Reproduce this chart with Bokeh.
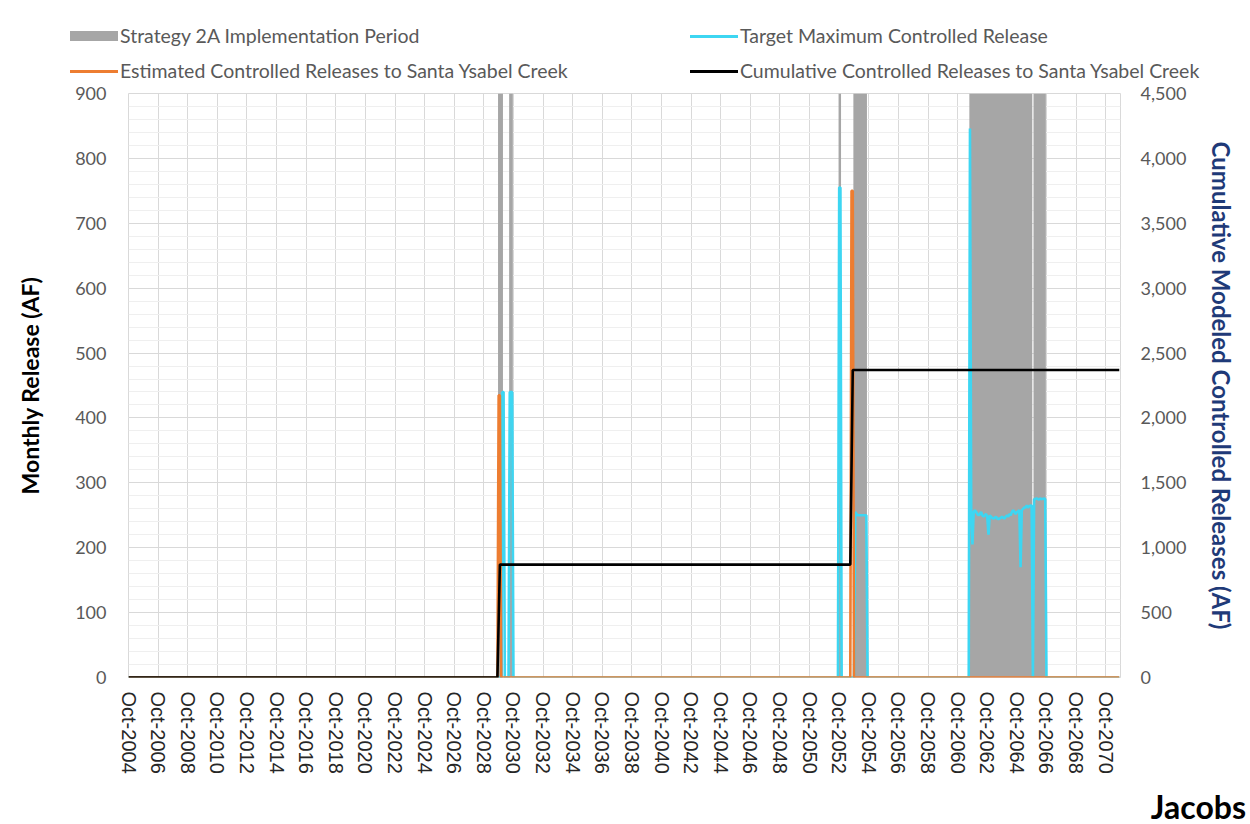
import pandas as pd
import numpy as np
from bokeh.plotting import figure
from bokeh.layouts import column
from bokeh.models import (Range1d, LinearAxis, FixedTicker, NumeralTickFormatter, Div)
from bokeh.embed import file_html
from bokeh.resources import INLINE

# ---------------- data ----------------
first_month = "2004-10"
last_month = "2071-09"

tick_labels = ["Oct-%d" % y for y in range(2004, 2071, 2)]

# Strategy 2A implementation period (grey columns at full height)
implementation_starts = ["2029-10", "2030-07", "2052-10", "2053-10", "2061-08", "2065-12"]
implementation_ends = ["2030-01", "2030-09", "2052-11", "2054-08", "2065-10", "2066-09"]
implementation_height = 900

# Estimated controlled releases to Santa Ysabel Creek (AF / month), non-zero months
estimated_months = ["2029-10", "2029-11", "2053-08", "2053-09"]
estimated_values = [435, 435, 750, 750]

# Target maximum controlled release (AF / month), non-zero runs
target_starts = ["2030-01", "2030-07", "2052-10", "2053-11", "2061-08"]
target_values = [
    [440, 440],
    [440, 440, 440],
    [755, 755],
    [255, 252, 250, 250, 250, 250, 250, 250, 250, 250],
    [846, 255, 205, 255, 258, 255, 252, 250, 252, 255, 250, 248,
     250, 252, 248, 220, 250, 248, 246, 245, 246, 248, 245, 244,
     245, 246, 248, 246, 245, 248, 250, 248, 252, 250, 255, 258,
     255, 252, 255, 256, 258, 170, 258, 260, 262, 262, 265, 262,
     264, 265, 265, 0, 275, 275, 276, 275, 274, 276, 275, 275,
     276, 275],
]

legend_labels = ["Strategy 2A Implementation Period",
                 "Target Maximum Controlled Release",
                 "Estimated Controlled Releases to Santa Ysabel Creek",
                 "Cumulative Controlled Releases to Santa Ysabel Creek"]

# ---------------- helpers ----------------
base = pd.Period(first_month, "M")
def midx(s):
    return (pd.Period(s, "M") - base).n

n_months = midx(last_month) + 1
x = np.arange(n_months)

estimated = np.zeros(n_months)
for m, v in zip(estimated_months, estimated_values):
    estimated[midx(m)] = v

target = np.zeros(n_months)
for s, vals in zip(target_starts, target_values):
    i0 = midx(s)
    target[i0:i0 + len(vals)] = vals

cumulative = np.cumsum(estimated)

tick_pos = [midx(lbl.replace("Oct-", "") + "-10") for lbl in tick_labels]

GRAY = "#A6A6A6"
ORANGE = "#ED7D31"
CYAN = "#3DD6F2"
LAB_FONT = "Lato"
W = 1250
LEG_H = 80

# ---------------- legend strip (HTML) ----------------
legend_keys = [  # (left, row centre y, key height, colour)
    (70, 36, 10, GRAY), (690, 36, 3, CYAN), (70, 71, 3, ORANGE), (690, 71, 3, "black")]
parts = []
for (lx, cy, kh, col), lab in zip(legend_keys, legend_labels):
    parts.append(f'<div style="position:absolute;left:{lx}px;top:{cy - kh / 2}px;width:48px;'
                 f'height:{kh}px;background:{col};"></div>')
    parts.append(f'<div style="position:absolute;left:{lx + 50}px;top:{cy - 9}px;height:18px;'
                 f'line-height:18px;white-space:nowrap;">{lab}</div>')
legend_div = Div(text=(f'<div style="position:relative;width:{W}px;height:{LEG_H}px;font-family:Lato;'
                       f'font-size:19.5px;color:#595959;">' + "".join(parts) + '</div>'),
                 width=W, height=LEG_H, margin=0)

# ---------------- main chart ----------------
p = figure(width=W, height=790 - LEG_H, output_backend="svg", toolbar_location=None,
           x_range=Range1d(0, n_months), y_range=Range1d(0, 900),
           min_border_left=128, min_border_right=130, min_border_top=93 - LEG_H, min_border_bottom=113,
           background_fill_color="white", border_fill_color="white")
p.outline_line_color = "#D9D9D9"
p.extra_y_ranges = {"cum": Range1d(0, 4500)}

p.quad(left=[midx(s) - 0.5 for s in implementation_starts],
       right=[midx(e) + 0.5 for e in implementation_ends],
       bottom=0, top=implementation_height,
       fill_color=GRAY, line_color=None)
p.line(x, target, line_color=CYAN, line_width=2.6)
p.line(x, estimated, line_color=ORANGE, line_width=2.6)
p.line(x, cumulative, line_color="black", line_width=2.6, y_range_name="cum")

p.xaxis.ticker = FixedTicker(ticks=tick_pos)
p.xaxis.major_label_overrides = {t: l for t, l in zip(tick_pos, tick_labels)}
p.xaxis.major_label_orientation = "vertical"
p.xaxis.major_label_text_font = "Liberation Sans"
p.xaxis.major_label_text_font_size = "20px"
p.xaxis.major_label_text_color = "#262626"
p.xaxis.major_label_standoff = 8
p.xaxis.axis_line_color = None
p.xaxis.major_tick_line_color = None
p.xaxis.minor_tick_line_color = None

p.yaxis.ticker = FixedTicker(ticks=list(range(0, 901, 100)), minor_ticks=list(range(0, 901, 20)))
p.yaxis.axis_label = "Monthly Release (AF)"
p.yaxis.axis_label_text_font = LAB_FONT
p.yaxis.axis_label_text_font_style = "bold"
p.yaxis.axis_label_text_font_size = "23px"
p.yaxis.axis_label_text_color = "black"
p.yaxis.axis_label_standoff = 28
p.yaxis.major_label_text_font = LAB_FONT
p.yaxis.major_label_text_font_size = "18px"
p.yaxis.major_label_text_color = "#595959"
p.yaxis.major_label_standoff = 16
p.yaxis.axis_line_color = None
p.yaxis.major_tick_line_color = None
p.yaxis.minor_tick_line_color = None

ax2 = LinearAxis(y_range_name="cum", ticker=FixedTicker(ticks=list(range(0, 4501, 500))),
                 formatter=NumeralTickFormatter(format="0,0"),
                 axis_label="Cumulative Modeled Controlled Releases (AF)")
ax2.axis_label_text_font = LAB_FONT
ax2.axis_label_text_font_style = "bold"
ax2.axis_label_text_font_size = "24px"
ax2.axis_label_text_color = "#1F3A78"
ax2.axis_label_standoff = 18
ax2.major_label_text_font = LAB_FONT
ax2.major_label_text_font_size = "18px"
ax2.major_label_text_color = "#595959"
ax2.major_label_standoff = 14
ax2.axis_line_color = None
ax2.major_tick_line_color = None
ax2.minor_tick_line_color = None
p.add_layout(ax2, "right")

p.xgrid.ticker = FixedTicker(ticks=tick_pos)
p.xgrid.grid_line_color = "#D9D9D9"
p.ygrid.ticker = FixedTicker(ticks=list(range(0, 901, 100)), minor_ticks=list(range(0, 901, 20)))
p.ygrid.grid_line_color = "#D9D9D9"
p.ygrid.minor_grid_line_color = "#EFEFEF"

# ---------------- logo strip (HTML) ----------------
logo_div = Div(text=(f'<div style="position:relative;width:{W}px;height:34px;">'
                     '<div style="position:absolute;right:4px;top:1px;line-height:32px;'
                     'font-family:Lato;font-weight:bold;font-size:32px;color:black;'
                     'white-space:nowrap;">Jacobs</div></div>'),
               width=W, height=34, margin=0)

layout = column(legend_div, p, logo_div, spacing=0)
open("out.html", "w").write(file_html(layout, INLINE))
